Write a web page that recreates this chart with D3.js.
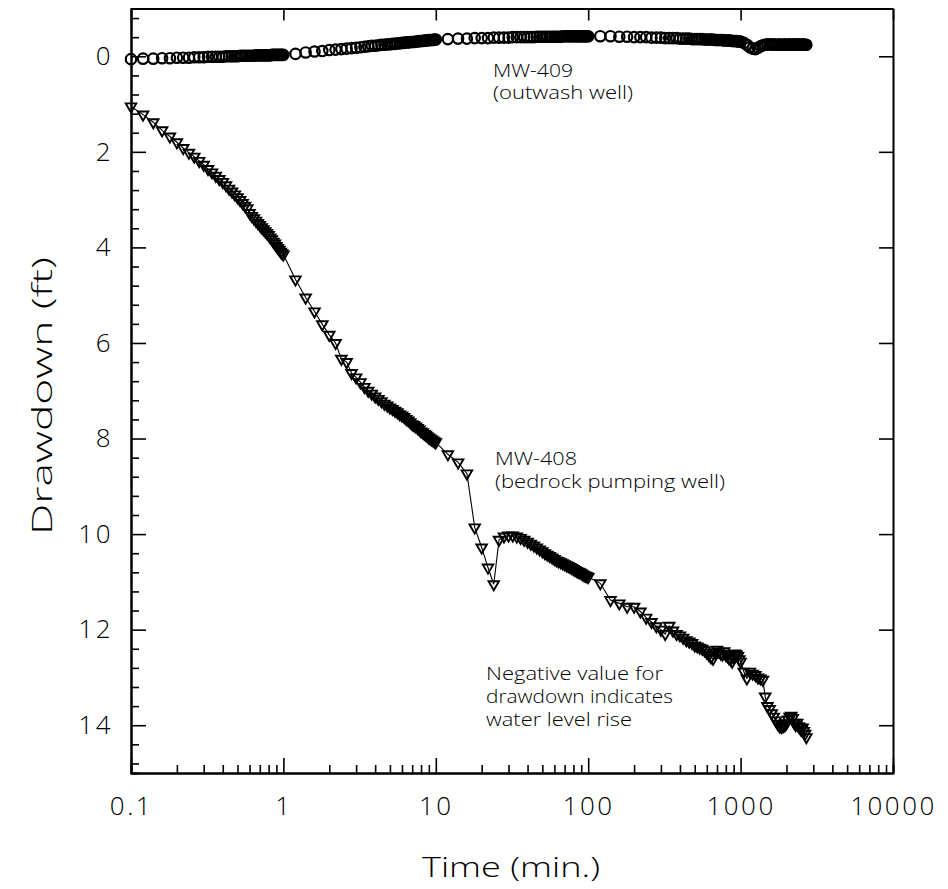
<!DOCTYPE html>
<html lang="en">
    <head>
        <meta charset="utf-8">
        <title>Drawdown vs time</title>
        <script type="text/javascript" src="https://cdn.jsdelivr.net/npm/d3@7/dist/d3.min.js"></script>
        <style>
        body{
            margin:0;
            background-color:white;
        }
        text{
            font-family:"Open Sans", "DejaVu Sans", sans-serif;
            font-weight:300;
            fill:black;
        }
        </style>
    </head>
    <body>
        <script type="text/javascript">

        let w = 948;
        let h = 889;

        // logger times (min), one block per decade
        let time = [
            0.10,0.12,0.14,0.16,0.18,0.20,0.22,0.24,0.26,0.28,0.30,0.32,0.34,0.36,0.38,0.40,0.42,0.44,0.46,0.48,0.50,0.52,0.54,
            0.56,0.58,0.60,0.62,0.64,0.66,0.68,0.70,0.72,0.74,0.76,0.78,0.80,0.82,0.84,0.86,0.88,0.90,0.92,0.94,0.96,0.98,1.00,
            1.2,1.4,1.6,1.8,2.0,2.2,2.4,2.6,2.8,3.0,3.2,3.4,3.6,3.8,4.0,4.2,4.4,4.6,4.8,5.0,5.2,5.4,5.6,
            5.8,6.0,6.2,6.4,6.6,6.8,7.0,7.2,7.4,7.6,7.8,8.0,8.2,8.4,8.6,8.8,9.0,9.2,9.4,9.6,9.8,10,
            12,14,16,18,20,22,24,26,28,30,32,34,36,38,40,42,44,46,48,50,52,54,56,
            58,60,62,64,66,68,70,72,74,76,78,80,82,84,86,88,90,92,94,96,98,100,
            120,140,160,180,200,220,240,260,280,300,320,340,360,380,400,420,440,460,480,500,520,540,560,
            580,600,620,640,660,680,700,720,740,760,780,800,820,840,860,880,900,920,940,960,980,1000,
            1050,1100,1150,1200,1250,1300,1350,1400,1450,1500,1550,1600,1650,1700,1750,1800,1850,
            1900,1950,2000,2050,2100,2150,2200,2250,2300,2350,2400,2450,2500,2550,2600,2650,2700
        ];

        // MW-408 bedrock pumping well, drawdown (ft)
        let mw408 = [
            1.05,1.22,1.38,1.55,1.68,1.80,1.92,2.02,2.10,2.19,2.27,2.36,2.43,2.50,2.57,2.63,2.70,2.77,2.83,2.89,2.95,3.01,3.07,
            3.13,3.18,3.28,3.34,3.39,3.44,3.49,3.53,3.58,3.62,3.66,3.70,3.74,3.79,3.83,3.88,3.92,3.97,4.01,4.05,4.09,4.12,4.15,
            4.67,5.05,5.34,5.61,5.83,6.00,6.33,6.40,6.63,6.72,6.82,6.92,7.00,7.06,7.12,7.17,7.22,7.27,7.31,7.35,7.38,7.42,7.45,
            7.49,7.52,7.55,7.59,7.62,7.66,7.70,7.72,7.75,7.78,7.81,7.85,7.87,7.90,7.92,7.95,7.98,8.00,8.02,8.04,8.06,8.08,
            8.33,8.50,8.73,9.86,10.28,10.70,11.05,10.12,10.05,10.03,10.03,10.05,10.08,10.12,10.16,10.20,10.24,10.28,10.32,10.36,10.40,10.43,10.46,
            10.49,10.52,10.55,10.57,10.59,10.61,10.63,10.65,10.67,10.69,10.71,10.73,10.75,10.77,10.79,10.80,10.82,10.84,10.86,10.87,10.88,10.90,
            11.03,11.38,11.45,11.52,11.52,11.62,11.75,11.84,11.93,12.00,12.09,11.92,12.02,12.09,12.12,12.17,12.22,12.25,12.28,12.33,12.35,12.38,12.40,
            12.43,12.48,12.53,12.58,12.61,12.48,12.42,12.46,12.50,12.52,12.45,12.53,12.55,12.60,12.62,12.67,12.58,12.50,12.52,12.55,12.62,12.67,
            12.88,13.02,12.88,12.92,12.95,13.00,13.02,13.05,13.40,13.60,13.66,13.75,13.82,13.90,13.97,14.02,14.04,
            14.02,14.00,13.96,13.88,13.82,13.80,13.85,13.95,14.00,13.95,14.02,14.05,14.10,14.05,14.12,14.18,14.25
        ];

        // MW-409 outwash well, drawdown (ft)
        let mw409 = [
            0.06,0.05,0.05,0.04,0.04,0.03,0.03,0.03,0.02,0.02,0.02,0.01,0.01,0.01,0.01,0.01,0.00,0.00,0.00,0.00,0.00,-0.01,-0.01,
            -0.01,-0.01,-0.01,-0.01,-0.01,-0.02,-0.02,-0.02,-0.02,-0.02,-0.02,-0.02,-0.02,-0.02,-0.03,-0.03,-0.03,-0.03,-0.03,-0.03,-0.03,-0.03,-0.03,
            -0.05,-0.08,-0.10,-0.11,-0.13,-0.14,-0.15,-0.16,-0.17,-0.18,-0.19,-0.20,-0.21,-0.22,-0.22,-0.23,-0.24,-0.24,-0.25,-0.25,-0.26,-0.26,-0.27,
            -0.27,-0.28,-0.28,-0.29,-0.29,-0.30,-0.30,-0.30,-0.31,-0.31,-0.32,-0.32,-0.32,-0.33,-0.33,-0.33,-0.34,-0.34,-0.34,-0.34,-0.35,-0.35,
            -0.36,-0.37,-0.37,-0.38,-0.38,-0.38,-0.39,-0.39,-0.39,-0.39,-0.40,-0.40,-0.40,-0.40,-0.40,-0.40,-0.40,-0.41,-0.41,-0.41,-0.41,-0.41,-0.41,
            -0.41,-0.41,-0.41,-0.41,-0.41,-0.42,-0.42,-0.42,-0.42,-0.42,-0.42,-0.42,-0.42,-0.42,-0.42,-0.42,-0.42,-0.42,-0.42,-0.42,-0.42,-0.42,
            -0.42,-0.42,-0.41,-0.41,-0.40,-0.40,-0.40,-0.39,-0.39,-0.39,-0.38,-0.38,-0.38,-0.38,-0.37,-0.37,-0.37,-0.37,-0.36,-0.36,-0.36,-0.36,-0.36,
            -0.35,-0.35,-0.35,-0.35,-0.35,-0.34,-0.34,-0.34,-0.34,-0.34,-0.33,-0.33,-0.33,-0.33,-0.33,-0.32,-0.32,-0.32,-0.32,-0.31,-0.31,-0.31,
            -0.28,-0.24,-0.19,-0.16,-0.15,-0.18,-0.21,-0.23,-0.24,-0.25,-0.25,-0.24,-0.25,-0.24,-0.24,-0.25,-0.24,
            -0.24,-0.25,-0.24,-0.24,-0.25,-0.24,-0.24,-0.25,-0.24,-0.24,-0.25,-0.24,-0.24,-0.25,-0.24,-0.24,-0.24
        ];

        let xTicks = [0.1, 1, 10, 100, 1000, 10000];
        let xTickLabels = ["0.1", "1", "10", "100", "1000", "10000"];
        let yTicks = [0, 2, 4, 6, 8, 10, 12, 14];

        // annotation text, one line per entry
        let labels409 = ["MW-409", "(outwash well)"];
        let labels408 = ["MW-408", "(bedrock pumping well)"];
        let noteLines = ["Negative value for", "drawdown indicates", "water level rise"];

        //creates the canvas
        var svg = d3.select("body")
                    .append("svg")
                    .attr("width", w)
                    .attr("height", h);

        var x = d3.scaleLog().domain([0.1, 10000]).range([131, 893]);
        var y = d3.scaleLinear().domain([-1, 15]).range([8.5, 773]);

        // minor ticks
        let yMinor = d3.range(-0.8, 15, 0.4).filter(function(v){
            return Math.abs(v/2 - Math.round(v/2)) > 0.01;
        });
        let xMinor = [];
        [0.1, 1, 10, 100, 1000].forEach(function(d){
            for(let k = 2; k <= 9; k++){ xMinor.push(d*k); }
        });

        //left axis
        svg.append("g")
            .attr("transform", "translate(131,0)")
            .call(d3.axisLeft(y).tickValues(yMinor).tickSize(-8).tickFormat(""));
        var leftAx = svg.append("g")
            .attr("transform", "translate(131,0)")
            .call(d3.axisLeft(y).tickValues(yTicks).tickSizeInner(-15).tickSizeOuter(0).tickPadding(18));

        //right axis
        svg.append("g")
            .attr("transform", "translate(893,0)")
            .call(d3.axisRight(y).tickValues(yTicks).tickSizeInner(-14).tickSizeOuter(0).tickFormat(""));

        //top axis
        svg.append("g")
            .attr("transform", "translate(0,8.5)")
            .call(d3.axisTop(x).tickValues(xTicks).tickSizeInner(-12).tickSizeOuter(0).tickFormat(""));

        //bottom axis
        svg.append("g")
            .attr("transform", "translate(0,773)")
            .call(d3.axisBottom(x).tickValues(xMinor).tickSize(-8).tickFormat(""));
        var bottomAx = svg.append("g")
            .attr("transform", "translate(0,773)")
            .call(d3.axisBottom(x).tickValues(xTicks).tickSizeInner(-15).tickSizeOuter(0).tickPadding(24)
                .tickFormat(function(d, i){ return xTickLabels[i]; }));

        svg.selectAll(".domain").attr("stroke", "black").attr("stroke-width", 2);
        svg.selectAll(".tick line").attr("stroke", "black").attr("stroke-width", 1.6);
        svg.selectAll(".tick text")
            .attr("font-family", null)
            .attr("font-size", 26)
            .attr("letter-spacing", 2.5)
            .attr("fill", "black");

        // axis titles
        svg.append("text")
            .attr("x", 422)
            .attr("y", 877)
            .attr("font-size", 28)
            .attr("textLength", 178)
            .attr("lengthAdjust", "spacingAndGlyphs")
            .text("Time (min.)");

        svg.append("text")
            .attr("transform", "translate(52,396) rotate(-90)")
            .attr("text-anchor", "middle")
            .attr("font-size", 28)
            .attr("textLength", 278)
            .attr("lengthAdjust", "spacingAndGlyphs")
            .text("Drawdown (ft)");

        let pts408 = time.map(function(t, i){ return [t, mw408[i]]; });
        let pts409 = time.map(function(t, i){ return [t, mw409[i]]; });

        //line under the triangles
        svg.append("path")
            .datum(pts408)
            .attr("fill", "none")
            .attr("stroke", "black")
            .attr("stroke-width", 1.1)
            .attr("d", d3.line().x(function(d){ return x(d[0]); }).y(function(d){ return y(d[1]); }));

        var tri = d3.symbol().type(d3.symbolTriangle).size(48);
        svg.selectAll("path.tri")
            .data(pts408)
            .enter()
            .append("path")
            .attr("class", "tri")
            .attr("d", tri)
            .attr("transform", function(d){
                return "translate(" + x(d[0]) + "," + y(d[1]) + ") rotate(180)";
            })
            .attr("fill", "none")
            .attr("stroke", "black")
            .attr("stroke-width", 1.9);

        svg.selectAll("circle")
            .data(pts409)
            .enter()
            .append("circle")
            .attr("cx", function(d){ return x(d[0]); })
            .attr("cy", function(d){ return y(d[1]); })
            .attr("r", 5.2)
            .attr("fill", "none")
            .attr("stroke", "black")
            .attr("stroke-width", 2.2);

        // annotations
        function addLines(lines, x0, ys, lens){
            lines.forEach(function(s, i){
                svg.append("text")
                    .attr("x", x0)
                    .attr("y", ys[i])
                    .attr("font-size", 18)
                    .attr("font-weight", 400)
                    .attr("textLength", lens[i])
                    .attr("lengthAdjust", "spacingAndGlyphs")
                    .text(s);
            });
        }
        addLines(labels409, 493, [77, 99], [80, 140]);
        addLines(labels408, 495, [465, 488], [82, 230]);
        addLines(noteLines, 486, [680, 703, 726], [177, 187, 146]);

        </script>
    </body>
</html>
